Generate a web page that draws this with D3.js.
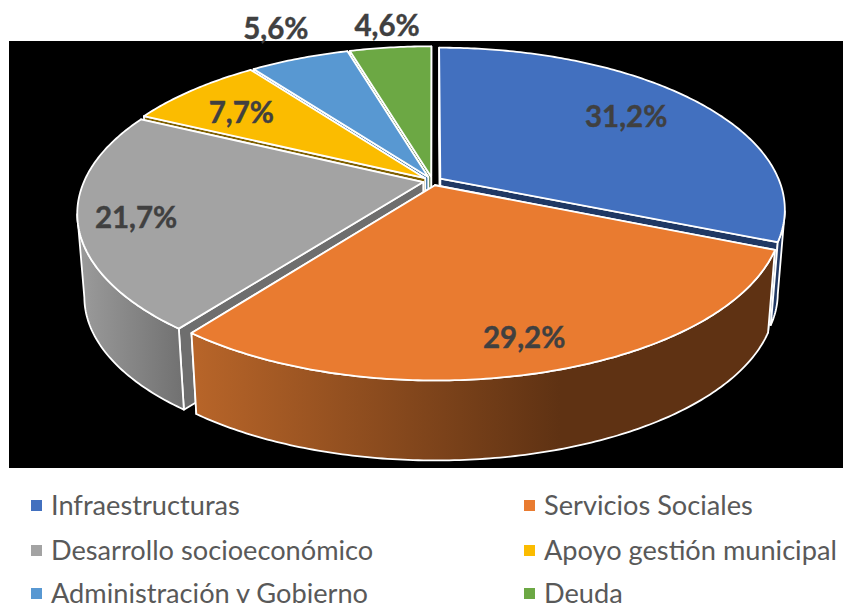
<!DOCTYPE html>
<html><head><meta charset="utf-8">
<script src="https://cdn.jsdelivr.net/npm/d3@7"></script>
<style>html,body{margin:0;padding:0;background:#fff}svg{display:block}</style>
</head><body><svg id="c" width="843" height="603"></svg>
<script>
const categories = ["Infraestructuras","Servicios Sociales","Desarrollo socioeconómico","Apoyo gestión municipal","Administración y Gobierno","Deuda"];
const values = [31.2,29.2,21.7,7.7,5.6,4.6];
const labels = ["31,2%","29,2%","21,7%","7,7%","5,6%","4,6%"];
const colors = ["#4270BF","#E97B30","#A3A3A3","#FBBC00","#5898D2","#6CA844"];
const wallColors = ["#1F3864","#843C0C","#6E6E6E","#7F6000","#2E6A9E","#3F6827"];
const labelRadius = [0.73,0.82,0.82,0.74,1.22,1.16];
const labelNudge = [[-4,-3],[3,5],[-6,4],[-7,2],[0,-8],[2,-5]];
const paintOrder = [5,4,3,0,2,1];

const svg = d3.select("#c");
const W=843,H=603;
svg.append("rect").attr("width",W).attr("height",H).attr("fill","#fff");
svg.append("rect").attr("x",9).attr("y",41).attr("width",W-9).attr("height",427).attr("fill","#000");

const defs = svg.append("defs");
function grad(id,x1,x2,stops){
  const g=defs.append("linearGradient").attr("id",id).attr("gradientUnits","userSpaceOnUse")
    .attr("x1",x1).attr("x2",x2).attr("y1",0).attr("y2",0);
  stops.forEach(s=>g.append("stop").attr("offset",s[0]).attr("stop-color",s[1]));
  return `url(#${id})`;
}
const sideFill = [
  "#203864",
  grad("g1",193,560,[[0,"#B86529"],[1,"#5F3213"]]),
  grad("g2",77,190,[[0,"#9C9C9C"],[1,"#6E6E6E"]]),
  "#7F6000","#2E6A9E","#3F6827"
];

// perspective projection of the pie disc
const cx=432.5, cy=181, persp=-0.189, dX=339, dY=156.5, depth=84, shrink=0.98, explode=0.028;
const xs=d3.scaleLinear().domain([-1,1]).range([cx-dX,cx+dX]);
const ys=d3.scaleLinear().domain([-1,1]).range([cy-dY,cy+dY]);
function project(u,v,low){
  const w=1+persp*v;
  let x=xs(u/w), y=ys(v/w);
  if(low){ x=cx+(x-cx)*shrink; y=cy+(y-cy)*shrink+depth; }
  return [x,y];
}
const arcs=d3.pie().sort(null).value(d=>d)(values);
const line=d3.line().curve(d3.curveLinear);
function geom(a){
  const mid=(a.startAngle+a.endAngle)/2, ox=explode*Math.sin(mid), oy=-explode*Math.cos(mid);
  const at=(ang,r,low)=>project(ox+r*Math.sin(ang),oy-r*Math.cos(ang),low);
  const n=Math.max(12,Math.ceil((a.endAngle-a.startAngle)*80));
  const angs=d3.range(n+1).map(i=>a.startAngle+(a.endAngle-a.startAngle)*i/n);
  return {at,angs,mid,ox,oy};
}
const g=svg.append("g");
paintOrder.forEach(i=>{
  const a=arcs[i],{at,angs}=geom(a);
  const stroke=(s)=>s.attr("stroke","#fff").attr("stroke-width",1.8).attr("stroke-linejoin","round");
  // the wall that faces further forward is painted last
  [a.startAngle,a.endAngle].sort((p,q)=>Math.cos(q)-Math.cos(p)).forEach(ang=>{
    g.append("path").attr("d",line([at(0,0,false),at(ang,1,false),at(ang,1,true),at(0,0,true)])+"Z")
      .attr("fill",wallColors[i]).call(stroke);
  });
  // outer rim: only the part in front of the silhouette tangent is visible
  const vis=angs.filter(t=>-Math.cos(t)>=-persp);
  if(vis.length>1){
    const side=vis.map(t=>at(t,1,false)).concat(vis.slice().reverse().map(t=>at(t,1,true)));
    g.append("path").attr("d",line(side)+"Z").attr("fill",sideFill[i]).call(stroke);
  }
  const top=[at(0,0,false)].concat(angs.map(t=>at(t,1,false)));
  g.append("path").attr("d",line(top)+"Z").attr("fill",colors[i]).call(stroke);
});
arcs.forEach((a,i)=>{
  const {at,mid}=geom(a), p=at(mid,labelRadius[i],false);
  svg.append("text").attr("x",p[0]+labelNudge[i][0]).attr("y",p[1]+labelNudge[i][1]).attr("dy","0.35em").attr("text-anchor","middle")
    .attr("font-family","Lato").attr("font-weight",700).attr("font-size",29.5).attr("fill","#404040")
    .attr("stroke","#404040").attr("stroke-width",0.4).text(labels[i]);
});
// legend
const legendX=d3.scaleOrdinal().domain([0,1]).range([31,524]);
const legendY=d3.scaleOrdinal().domain([0,1,2]).range([505,550,593]);
categories.forEach((c,i)=>{
  const col=i%2,row=Math.floor(i/2),x=legendX(col),y=legendY(row);
  svg.append("rect").attr("x",x).attr("y",y-5).attr("width",11).attr("height",11).attr("fill",colors[i]);
  svg.append("text").attr("x",x+20).attr("y",y).attr("dy","0.35em").attr("font-family","Lato")
    .attr("font-size",27.2).attr("fill","#595959").text(c);
});
</script></body></html>
